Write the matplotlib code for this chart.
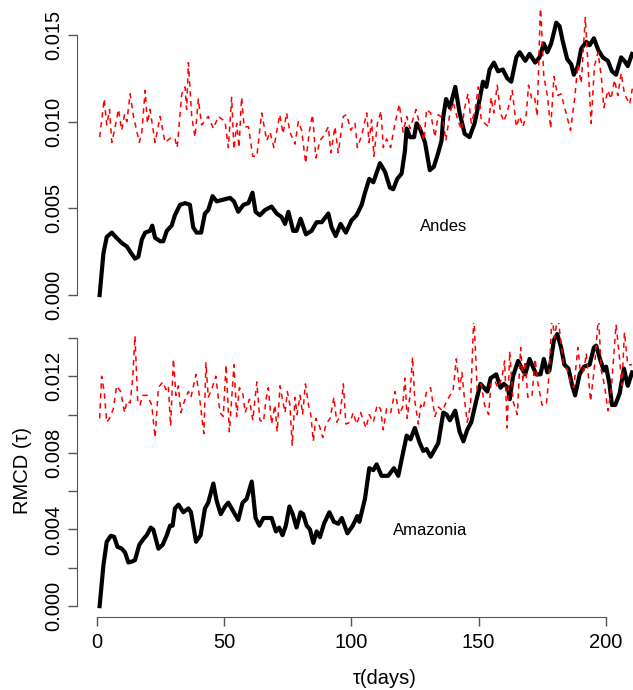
"""RMCD(tau) for the Andes and Amazonia regions, two stacked panels:
observed (thick black) against the surrogate reference (red dashed).
Values were read off the original figure.

Output:
  - out.png
"""
import matplotlib
matplotlib.use("Agg")
import matplotlib.pyplot as plt

OUT_PNG = "out.png"

# ---- Andes (top panel) ----
andes_obs_tau = [1, 2.5, 3.8, 5.8, 7.3, 9.7, 11.7, 13, 14.9, 16.2, 17.6, 18.9, 20.8,
                 21.7, 22.8, 24.8, 26, 27.4, 29.3, 30.6, 32.6, 34.6, 36.5, 37.8, 39.1,
                 40.9, 42.4, 43.7, 45.4, 47, 49.6, 52.3, 53.8, 55.5, 57.5, 59.5, 61.1,
                 62.3, 64, 66, 68.6, 70.6, 72.5, 73.9, 75.2, 77.1, 78.4, 80, 82.1, 84.3,
                 86.3, 88.3, 90.9, 92.2, 93.8, 95.7, 97.8, 100, 102, 104, 105.3, 107,
                 108.6, 111.2, 113.2, 115.1, 116.4, 118, 119.7, 121, 121.7, 123, 124.6,
                 125.6, 126.9, 128.9, 130.8, 132.4, 134.1, 135.4, 136.1, 137.2, 138.7,
                 140.8, 142.5, 144.5, 146.4, 148.4, 150.4, 151.7, 153, 154.3, 156, 157.6,
                 159.5, 161.2, 162.8, 164.8, 166.1, 168.3, 170, 172.2, 173.9, 175.6, 177,
                 178.5, 180.5, 181.8, 183.1, 184.8, 186.4, 187.4, 189, 190.3, 192.3, 193.6,
                 195.3, 197.1, 198.8, 200.8, 202.4, 204, 206, 207.3, 208.6, 210.3]
andes_obs = [0.0, 0.0024, 0.00335, 0.0036, 0.00335, 0.0030, 0.0028, 0.0025, 0.0021, 0.0022,
             0.0032, 0.0036, 0.0037, 0.0040, 0.0033, 0.0031, 0.0031, 0.0037, 0.0040, 0.0046,
             0.0052, 0.0053, 0.0052, 0.0039, 0.0036, 0.0036, 0.0047, 0.0049, 0.0057, 0.0054,
             0.0055, 0.0056, 0.0054, 0.0048, 0.0052, 0.0053, 0.0059, 0.0048, 0.0046, 0.0049,
             0.0051, 0.0047, 0.0045, 0.0041, 0.0048, 0.0037, 0.0037, 0.0044, 0.0035, 0.0037,
             0.0042, 0.0042, 0.0047, 0.0039, 0.0034, 0.0041, 0.0036, 0.0043, 0.0046, 0.0052,
             0.0059, 0.0067, 0.0065, 0.0076, 0.0071, 0.0062, 0.0061, 0.0067, 0.0070, 0.0083,
             0.0096, 0.0091, 0.0091, 0.0099, 0.0096, 0.0088, 0.0072, 0.0074, 0.0082, 0.0089,
             0.0103, 0.0113, 0.0108, 0.0120, 0.0105, 0.0093, 0.0091, 0.0099, 0.0113, 0.0123,
             0.0120, 0.0130, 0.0134, 0.0129, 0.0130, 0.0125, 0.0123, 0.0137, 0.0140, 0.0135,
             0.0139, 0.0134, 0.0137, 0.0145, 0.0140, 0.0145, 0.0157, 0.0155, 0.0146, 0.0136,
             0.0133, 0.0127, 0.0132, 0.0142, 0.0146, 0.0144, 0.0148, 0.0141, 0.0137, 0.0135,
             0.0129, 0.0127, 0.0137, 0.0135, 0.0132, 0.0139]

andes_ref_tau = [1, 2.8, 3.8, 4.9, 5.8, 7.1, 8.4, 9.7, 10.8, 11.7, 13, 14.3, 16.6, 17.6,
                 18.9, 19.8, 20.8, 22.8, 24.8, 26.7, 29.3, 30.6, 31.5, 33.3, 34.6, 35.2,
                 35.9, 37.2, 38.5, 39.8, 41.1, 43.7, 45.7, 47.7, 50.3, 51.6, 52.9, 53.8,
                 54.9, 55.8, 56.8, 57.8, 59.5, 61.2, 62.8, 64.7, 66.7, 68, 69.5, 71.8,
                 73.1, 74.5, 75.8, 77.8, 79.1, 80.4, 82, 83.4, 84.7, 86, 87.6, 89.2, 90.9,
                 91.9, 93.5, 94.8, 96.8, 98.1, 99.7, 101.4, 102.3, 104, 106, 106.9, 107.9,
                 108.8, 110.2, 111.6, 112.5, 113.8, 115.4, 117.1, 118.8, 120.3, 121.7, 123,
                 125.4, 127, 128.5, 129.5, 131.1, 132.8, 134.1, 135.8, 137.1, 138.7, 140,
                 141.6, 143.2, 144.5, 145.8, 147.1, 148.6, 149.9, 151, 152.3, 153.9, 154.9,
                 155.9, 157.3, 158.6, 159.9, 161.5, 163.2, 164.8, 166.1, 167.4, 168.7,
                 169.6, 170.9, 172, 173, 174.3, 175.6, 177, 178.3, 179.6, 181.1, 182.4, 184,
                 186.1, 187.7, 189, 190.3, 191.9, 193, 194.2, 195.5, 196.9, 198.2, 199.2,
                 200.8, 202, 203.4, 204.7, 206, 207.3, 209.3, 210.4]
andes_ref = [0.0091, 0.0113, 0.0098, 0.0107, 0.0088, 0.0097, 0.0107, 0.0095, 0.0104, 0.0100,
             0.0116, 0.0103, 0.0088, 0.0094, 0.0118, 0.0099, 0.0107, 0.0088, 0.0103, 0.0088,
             0.0091, 0.0090, 0.0085, 0.0116, 0.0120, 0.0107, 0.0134, 0.0103, 0.0091, 0.0113,
             0.0098, 0.0103, 0.0096, 0.0103, 0.0100, 0.0085, 0.0114, 0.0084, 0.0099, 0.0085,
             0.0114, 0.0097, 0.0097, 0.0080, 0.0080, 0.0105, 0.0089, 0.0094, 0.0085, 0.0104,
             0.0093, 0.0105, 0.0094, 0.0087, 0.0100, 0.0095, 0.0076, 0.0094, 0.0104, 0.0079,
             0.0089, 0.0092, 0.0097, 0.0082, 0.0097, 0.0082, 0.0103, 0.0104, 0.0095, 0.0099,
             0.0085, 0.0092, 0.0105, 0.0088, 0.0101, 0.0080, 0.0099, 0.0106, 0.0085, 0.0090,
             0.0085, 0.0099, 0.0110, 0.0094, 0.0103, 0.0096, 0.0107, 0.0097, 0.0089, 0.0107,
             0.0105, 0.0091, 0.0104, 0.0102, 0.0089, 0.0105, 0.0111, 0.0102, 0.0095, 0.0108,
             0.0116, 0.0099, 0.0107, 0.0120, 0.0101, 0.0099, 0.0097, 0.0114, 0.0105, 0.0121,
             0.0105, 0.0100, 0.0107, 0.0118, 0.0097, 0.0103, 0.0097, 0.0104, 0.0121, 0.0113,
             0.0114, 0.0103, 0.0168, 0.0126, 0.0115, 0.0096, 0.0126, 0.0115, 0.0116, 0.0107,
             0.0095, 0.0113, 0.0133, 0.0122, 0.0160, 0.0132, 0.0099, 0.0132, 0.0140, 0.0126,
             0.0108, 0.0118, 0.0113, 0.0124, 0.0115, 0.0128, 0.0116, 0.0110, 0.0119]

# ---- Amazonia (bottom panel) ----
amaz_obs_tau = [1, 2.5, 3.8, 5.4, 6.7, 8, 9.7, 11, 12.3, 13.6, 14.9, 16.6, 18.2, 19.5,
                21.1, 22.1, 24.1, 25.8, 27.4, 28.7, 29.7, 30.6, 32, 33.9, 35.9, 36.9,
                38.9, 40.7, 42.4, 43.7, 45.7, 47, 48.6, 50.3, 51.6, 53.3, 55.5, 57.2,
                58.8, 60.8, 62.3, 63.8, 65.4, 68.6, 70.3, 71.6, 72.9, 74.2, 75.6, 76.9,
                78.4, 80, 81, 82.4, 83.7, 85, 86.3, 87.6, 89.2, 91.3, 93.1, 94.8, 96.2,
                98.4, 100.5, 102.3, 103.1, 105.3, 107, 108.6, 109.9, 111.8, 114.4, 116.7,
                118.4, 120.1, 121.7, 123.2, 124.9, 126.6, 128.2, 129.5, 131.1, 132.8,
                134.1, 136.1, 137.4, 138.7, 140.8, 142.5, 144, 145.5, 147.1, 149, 150.7,
                152.1, 153.4, 154.7, 156.9, 158.6, 159.9, 161.5, 162.2, 163.5, 165.5, 167,
                168.3, 170, 171.3, 172.6, 174.3, 175.6, 177, 177.8, 179.6, 180.9, 182.4,
                183.7, 185.3, 186.6, 187.9, 189.7, 191.4, 193.6, 195.3, 196.2, 197.9,
                199.2, 200.1, 201.4, 202.4, 203.7, 205.4, 207.1, 208.6, 210.3]
amaz_obs = [0.0, 0.00214, 0.00336, 0.00367, 0.00362, 0.0031, 0.0030, 0.0028, 0.00228,
            0.00232, 0.0024, 0.0032, 0.0035, 0.0037, 0.0041, 0.0040, 0.0030, 0.0032, 0.0037,
            0.0042, 0.0042, 0.0051, 0.0053, 0.0049, 0.0051, 0.0049, 0.00336, 0.0037, 0.0051,
            0.0054, 0.0064, 0.0055, 0.0048, 0.0052, 0.0054, 0.0050, 0.0045, 0.0054, 0.0056,
            0.0065, 0.0046, 0.0042, 0.0046, 0.0046, 0.0039, 0.0041, 0.0037, 0.0042, 0.0052,
            0.0048, 0.0041, 0.0049, 0.0048, 0.0042, 0.0040, 0.0033, 0.0039, 0.0036, 0.0043,
            0.0049, 0.0044, 0.0043, 0.0046, 0.0038, 0.0042, 0.0047, 0.0044, 0.0056, 0.0072,
            0.0071, 0.0074, 0.0068, 0.0068, 0.0072, 0.0068, 0.0079, 0.0089, 0.0087, 0.0093,
            0.0086, 0.0081, 0.0082, 0.0078, 0.0082, 0.0085, 0.0101, 0.0100, 0.0097, 0.0102,
            0.0091, 0.0086, 0.0092, 0.0096, 0.0107, 0.0116, 0.0114, 0.0112, 0.0119, 0.0121,
            0.0114, 0.0116, 0.0114, 0.0108, 0.0120, 0.0128, 0.0124, 0.0121, 0.0129, 0.0125,
            0.0121, 0.0121, 0.0129, 0.0122, 0.0123, 0.0139, 0.0142, 0.0135, 0.0126, 0.0124,
            0.0116, 0.0110, 0.0121, 0.0125, 0.0126, 0.0135, 0.0136, 0.0128, 0.0123, 0.0125,
            0.0116, 0.0105, 0.0105, 0.0111, 0.0124, 0.0115, 0.0122]

amaz_ref_tau = [1, 1.8, 2.8, 3.8, 4.9, 6.4, 7.7, 9.3, 10.8, 11.7, 13, 14, 14.9, 16, 16.9,
                17.9, 19.7, 21.5, 22.8, 24.1, 25.8, 27.1, 28, 28.9, 30, 31, 32, 32.9,
                34.6, 35.9, 36.9, 38.9, 40.2, 41.5, 42, 42.8, 43.7, 45, 46.7, 48.3, 49.6,
                50.7, 52, 52.9, 53.8, 54.9, 55.9, 57.2, 58.2, 59.9, 61.2, 62.8, 64, 65.4,
                66.4, 67.3, 68.6, 69.9, 70.8, 71.9, 73, 73.9, 74.8, 75.8, 76.7, 77.8,
                78.6, 79.8, 80.8, 81.9, 83.1, 84, 85, 86, 87.4, 88.7, 90, 91.6, 93.1,
                94.2, 95.5, 96.8, 97.8, 99.4, 100.7, 102, 103.6, 105.7, 107, 108.6, 110.1,
                111.4, 112.5, 113.8, 115.4, 117.1, 118.8, 120.1, 121, 121.9, 123, 124,
                124.9, 126.3, 127.2, 128.2, 129.5, 131.1, 132.8, 134.1, 135.8, 137.4,
                138.7, 139.9, 141.2, 142.5, 143.4, 144.5, 145.5, 146.8, 148.1, 149.4, 151,
                152.3, 153.9, 154.9, 156.5, 157.6, 159.1, 160.2, 161.2, 162.2, 163.5,
                165.2, 166.5, 167.4, 168.3, 169.3, 170.9, 172.2, 173.2, 174.9, 176.6,
                177.8, 178.8, 179.8, 181.1, 182.4, 183.4, 184.7, 186.1, 187.4, 189, 190,
                191.4, 192.3, 194, 195.6, 197.1, 198.2, 199.5, 200.8, 202.1, 204, 205.4,
                206.3, 207.3, 208.6, 210.3]
amaz_ref = [0.0098, 0.0120, 0.0112, 0.0096, 0.0098, 0.0103, 0.0115, 0.0112, 0.0101, 0.0107,
            0.0106, 0.0119, 0.0141, 0.0106, 0.0105, 0.0110, 0.0110, 0.0105, 0.0088, 0.0114,
            0.0117, 0.0113, 0.0115, 0.0094, 0.0129, 0.0110, 0.0115, 0.0101, 0.0108, 0.0112,
            0.0109, 0.0121, 0.0110, 0.0095, 0.0090, 0.0127, 0.0109, 0.0113, 0.0120, 0.0101,
            0.0099, 0.0126, 0.0091, 0.0108, 0.0126, 0.0099, 0.0114, 0.0112, 0.0101, 0.0108,
            0.0097, 0.0117, 0.0097, 0.0096, 0.0108, 0.0114, 0.0095, 0.0105, 0.0091, 0.0115,
            0.0107, 0.0101, 0.0112, 0.0105, 0.0084, 0.0109, 0.0100, 0.0110, 0.0100, 0.0116,
            0.0105, 0.0100, 0.0086, 0.0098, 0.0094, 0.0088, 0.0095, 0.0098, 0.0109, 0.0096,
            0.0099, 0.0116, 0.0095, 0.0096, 0.0101, 0.0095, 0.0101, 0.0093, 0.0100, 0.0096,
            0.0105, 0.0103, 0.0092, 0.0103, 0.0101, 0.0112, 0.0100, 0.0104, 0.0119, 0.0098,
            0.0110, 0.0130, 0.0107, 0.0095, 0.0105, 0.0103, 0.0112, 0.0114, 0.0099, 0.0104,
            0.0102, 0.0107, 0.0110, 0.0112, 0.0129, 0.0113, 0.0122, 0.0107, 0.0096, 0.0105,
            0.0152, 0.0113, 0.0116, 0.0105, 0.0100, 0.0117, 0.0117, 0.0114, 0.0119, 0.0128,
            0.0093, 0.0133, 0.0107, 0.0100, 0.0135, 0.0117, 0.0128, 0.0109, 0.0109, 0.0129,
            0.0117, 0.0105, 0.0105, 0.0123, 0.0152, 0.0140, 0.0152, 0.0137, 0.0126, 0.0124,
            0.0117, 0.0114, 0.0135, 0.0122, 0.0123, 0.0132, 0.0107, 0.0126, 0.0152, 0.0123,
            0.0115, 0.0102, 0.0113, 0.0147, 0.0129, 0.0115, 0.0143, 0.0126, 0.0126]

TOP_YTICKS = [0.0, 0.005, 0.010, 0.015]
TOP_YLABELS = ["0.000", "0.005", "0.010", "0.015"]
BOT_YTICKS = [0.0, 0.002, 0.004, 0.006, 0.008, 0.010, 0.012, 0.014]
BOT_YLABELS = ["0.000", "", "0.004", "", "0.008", "", "0.012", ""]
XTICKS = [0, 50, 100, 150, 200]

AXIS_GREY = "#555555"
FS = 14.5


def style_panel(ax, yticks, ylabels):
    ax.spines[["top", "right"]].set_visible(False)
    ax.spines["left"].set_color(AXIS_GREY)
    ax.spines["left"].set_bounds(yticks[0], yticks[-1])
    ax.set_yticks(yticks)
    ax.set_yticklabels(ylabels, rotation=90, va="center", fontsize=FS)
    ax.tick_params(axis="y", length=6.5, width=1, color=AXIS_GREY, pad=3.5)


def main():
    plt.rcParams["font.family"] = ["Liberation Sans", "DejaVu Sans"]
    fig = plt.figure(figsize=(6.33, 6.90), dpi=100)
    # R-like plot regions; the right edge runs past the figure (cropped original)
    ax_top = fig.add_axes([0.1216, 0.5565, 0.973, 0.429])
    ax_bot = fig.add_axes([0.1216, 0.1058, 0.973, 0.4258])

    for ax, obs_t, obs, ref_t, ref in [
        (ax_top, andes_obs_tau, andes_obs, andes_ref_tau, andes_ref),
        (ax_bot, amaz_obs_tau, amaz_obs, amaz_ref_tau, amaz_ref),
    ]:
        ax.plot(obs_t, obs, color="black", linewidth=3.0, solid_joinstyle="round")
        ax.plot(ref_t, ref, color="red", linewidth=1.1, linestyle=(0, (3.5, 3.0)))
        ax.set_xlim(-7.9, 234.2)

    ax_top.set_ylim(-0.000632, 0.016432)
    ax_bot.set_ylim(-0.000568, 0.014768)

    style_panel(ax_top, TOP_YTICKS, TOP_YLABELS)
    style_panel(ax_bot, BOT_YTICKS, BOT_YLABELS)

    ax_top.spines["bottom"].set_visible(False)
    ax_top.tick_params(axis="x", bottom=False, labelbottom=False)

    ax_bot.spines["bottom"].set_color(AXIS_GREY)
    ax_bot.spines["bottom"].set_bounds(XTICKS[0], XTICKS[-1])
    ax_bot.set_xticks(XTICKS)
    ax_bot.set_xticklabels([str(t) for t in XTICKS], fontsize=FS)
    ax_bot.tick_params(axis="x", length=6.5, width=1, color=AXIS_GREY, pad=5)

    ax_top.text(136.3, 0.00398, "Andes", ha="center", va="center", fontsize=12)
    ax_bot.text(130.8, 0.00397, "Amazonia", ha="center", va="center", fontsize=12)

    ax_bot.set_xlabel("\u03c4(days)", fontsize=FS, labelpad=12)
    fig.text(22 / 633, 1 - 470 / 690, "RMCD (\u03c4)", rotation=90,
             ha="center", va="center", fontsize=FS)

    fig.savefig(OUT_PNG, dpi=100)


if __name__ == "__main__":
    main()
